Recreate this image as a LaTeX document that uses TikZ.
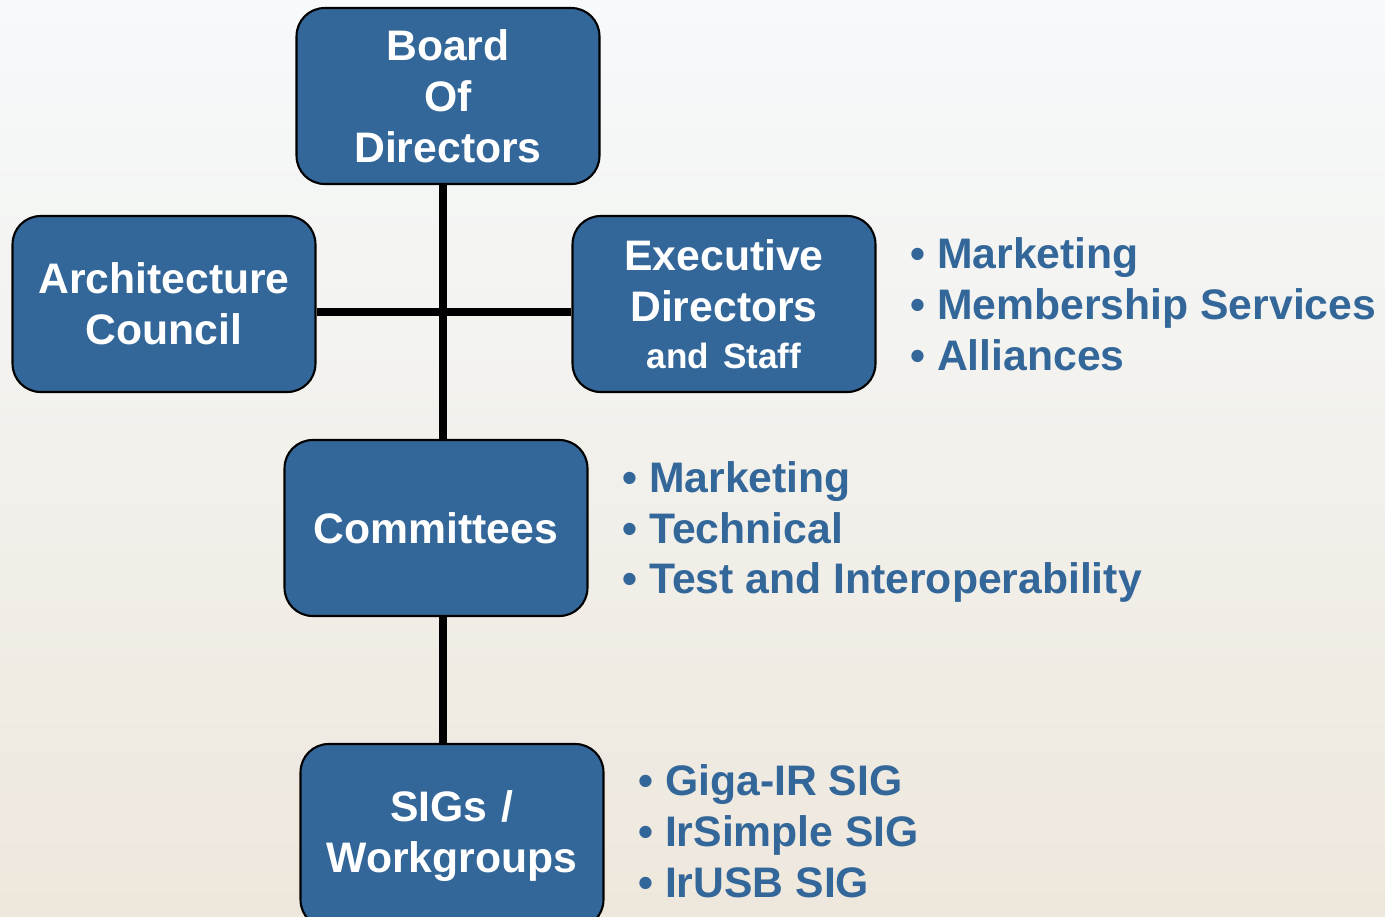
\documentclass[tikz,border=0pt]{standalone}
\usepackage{fontspec}
\setmainfont{Liberation Sans}
\usetikzlibrary{positioning, backgrounds}
\definecolor{boxblue}{HTML}{336699}
\definecolor{itemblue}{HTML}{336699}
\definecolor{bgtop}{HTML}{F6FAFB}
\definecolor{bgmid}{HTML}{F3F6F0}
\definecolor{bgbot}{HTML}{EEE7DC}
\tikzset{
orgbox/.style={draw=black, line width=1.2pt, fill=boxblue, rounded corners=16pt, minimum width=6.06cm, minimum height=3.52cm, text width=5.9cm, align=center, text=white, inner sep=0pt, font=\fontsize{24.3}{29}\selectfont\bfseries},
itemlist/.style={anchor=west, align=left, text=itemblue, inner sep=0pt, font=\fontsize{24.3}{29}\selectfont\bfseries},
link/.style={line width=4pt, draw=black},
}

\begin{document}
\begin{tikzpicture}[x=0.02cm, y=-0.02cm]
    \clip (0,0) rectangle (1385,916);

    %boxes
    \node[orgbox] (board) at (448,96) {Board\\Of\\Directors};
    \node[orgbox] (arch) at (164,304) {Architecture\\Council};
    \node[orgbox] (exec) at (724,304) {Executive\\Directors\\[-2pt]{\fontsize{20}{24}\selectfont\mbox{and Staff}}};
    \node[orgbox] (comm) at (436,528) {Committees};
    \node[orgbox, minimum height=3.68cm] (sigs) at (452,836) {SIGs /\\Workgroups};

    %lists
    \node[itemlist] (execlist) at (910,304) {\textbullet\ Marketing\\\textbullet\ Membership Services\\\textbullet\ Alliances};
    \node[itemlist] (commlist) at (622,532) {\textbullet\ Marketing\\\textbullet\ Technical\\\textbullet\ Test and Interoperability};
    \node[itemlist] (sigslist) at (638,831) {\textbullet\ Giga-IR SIG\\\textbullet\ IrSimple SIG\\\textbullet\ IrUSB SIG};

    \coordinate (trunk) at (443,312);
    \begin{scope}[on background layer]
    \shade[top color=bgtop, middle color=bgmid, bottom color=bgbot] (0,0) rectangle (1385,916);
    \draw[link] (board.south -| trunk) -- (sigs.north -| trunk);
    \draw[link] (arch.east |- trunk) -- (exec.west |- trunk);
    \end{scope}
\end{tikzpicture}
\end{document}
